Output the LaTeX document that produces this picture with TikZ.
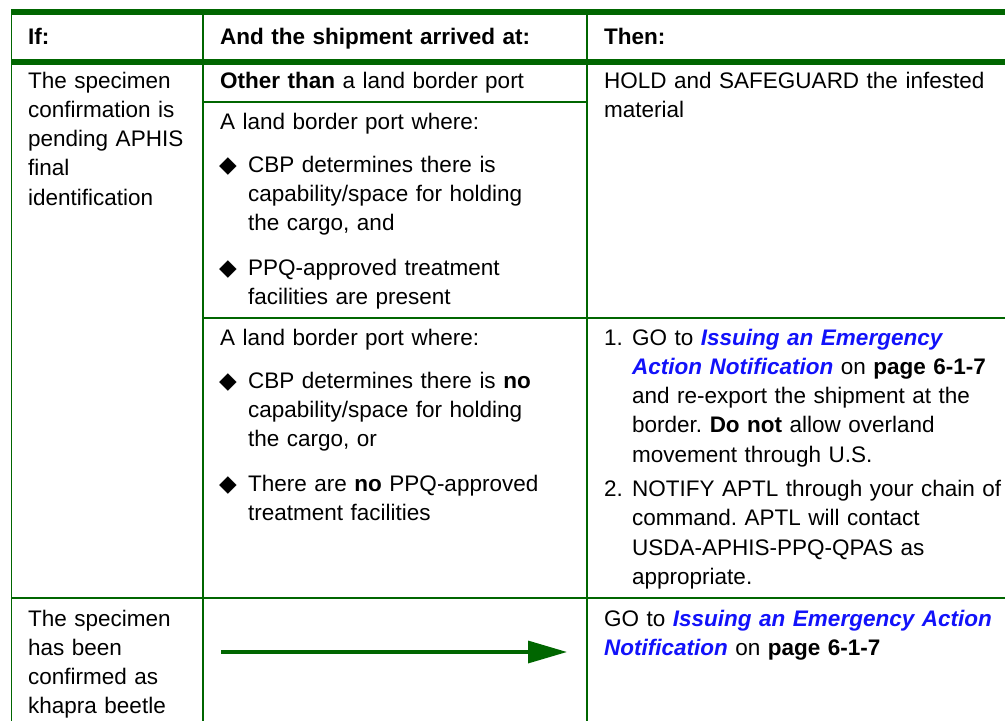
\documentclass[tikz,border=0pt]{standalone}
\usepackage{fontspec}
\setmainfont{Liberation Sans}
\newfontfamily\diamfont{DejaVu Sans}
\usepackage{xcolor}
\usepackage{tikz}
\usetikzlibrary{arrows.meta, positioning}
\frenchspacing
\definecolor{tblgreen}{RGB}{0,102,0}
\definecolor{linkblue}{RGB}{18,18,250}
\newcommand{\aanlink}[1]{\textcolor{linkblue}{\bfseries\itshape #1}}
\tikzset{cell/.style={anchor=base west, inner sep=0pt, align=left, text width=#1, font=\fontsize{22.5}{29.3}\selectfont}, cell/.default={170pt},
    head/.style={cell=#1, font=\fontsize{22.5}{29.3}\selectfont\bfseries}, head/.default={360pt},
    bullet/.style={anchor=base west, inner sep=0pt, font=\fontsize{23}{26}\selectfont\diamfont},
    rulethick/.style={draw=tblgreen, line width=5.5pt},
    rulethin/.style={draw=tblgreen, line width=1.3pt},
    flow/.style={draw=tblgreen, line width=3.3pt, -{Triangle[length=39pt, width=22pt]}}}

\begin{document}
\begin{tikzpicture}[x=1pt, y=-1pt]
                 \useasboundingbox (0,0) rectangle (1005,721);

                 % rules of the table
                 \draw[rulethin] (11.7,12) -- (11.7,721);
                 \draw[rulethin] (203,12) -- (203,721);
                 \draw[rulethin] (587,12) -- (587,721);
                 \draw[rulethin] (203,102) -- (587,102);
                 \draw[rulethin] (203,318) -- (1010,318);
                 \draw[rulethin] (11,598) -- (1010,598);
                 \draw[rulethick] (11,12) -- (1010,12);
                 \draw[rulethick] (11,61.8) -- (1010,61.8);

                 % header
                 \node[head=160pt] (hif) at (28,44) {If:};
                 \node[head] (hship) at (220,44) {And the shipment arrived at:};
                 \node[head] (hthen) at (604,44) {Then:};

                 % pending identification
                 \node[cell] (pend) at (28,88) {The specimen\\confirmation is\\pending APHIS\\final\\identification};
                 \node[cell=350pt] (other) at (220,88) {\textbf{Other than} a land border port};
                 \node[cell=395pt] (hold) at (604,88) {HOLD and SAFEGUARD the infested\\material};

                 \node[cell=350pt] (landyes) at (220,129) {A land border port where:};
                 \node[bullet] (dotyesa) at (219,172) {◆};
                 \node[cell=330pt] (capyes) at (248,172) {CBP determines there is\\capability/space for holding\\the cargo, and};
                 \node[bullet] (dotyesb) at (219,275) {◆};
                 \node[cell=330pt] (facyes) at (248,275) {PPQ-approved treatment\\facilities are present};

                 \node[cell=350pt] (landno) at (220,345) {A land border port where:};
                 \node[bullet] (dotnoa) at (219,388) {◆};
                 \node[cell=330pt] (capno) at (248,388) {CBP determines there is \textbf{no}\\capability/space for holding\\the cargo, or};
                 \node[bullet] (dotnob) at (219,491) {◆};
                 \node[cell=330pt] (facno) at (248,491) {There are \textbf{no} PPQ-approved\\treatment facilities};

                 \node[cell=28pt] (stepone) at (604,345) {1.};
                 \node[cell=372pt] (reexport) at (632,345) {GO to \aanlink{Issuing an Emergency}\\\aanlink{Action Notification} on \textbf{page 6-1-7}\\and re-export the shipment at the\\border. \textbf{Do not} allow overland\\movement through U.S.};
                 \node[cell=28pt] (steptwo) at (604,496.5) {2.};
                 \node[cell=372pt] (notify) at (632,496.5) {NOTIFY APTL through your chain of\\command. APTL will contact\\USDA-APHIS-PPQ-QPAS as\\appropriate.};

                 % confirmed
                 \node[cell] (khapra) at (28,626) {The specimen\\has been\\confirmed as\\khapra beetle};
                 \coordinate (flowin) at (221,652);
                 \coordinate (flowout) at (567,652);
                 \draw[flow] (flowin) -- (flowout);
                 \node[cell=399pt] (emergency) at (604,626) {GO to \aanlink{Issuing an Emergency Action}\\\aanlink{Notification} on \textbf{page 6-1-7}};

\end{tikzpicture}
\end{document}
